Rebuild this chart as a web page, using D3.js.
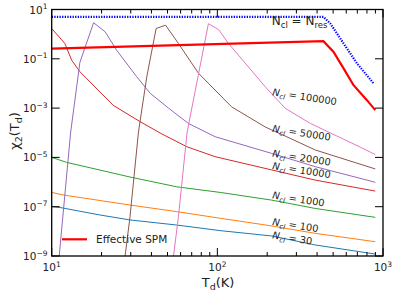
<!DOCTYPE html>
<html><head><meta charset="utf-8">
<script src="https://cdn.jsdelivr.net/npm/d3@7"></script>
<style>
body{margin:0;background:#fff}
svg{display:block}
text{font-family:"DejaVu Sans",sans-serif;fill:#222}
</style>
</head><body>
<svg id="c" width="397" height="296"></svg>
<script>
// ---- data ----
const nclNames  = ["30","100","1000","10000","20000","50000","100000"];
const nclColors = ["#1f77b4","#ff7f0e","#2ca02c","#d62728","#9467bd","#8c564b","#e377c2"];

const T30 = [10,11.2,19.6,29.7,56.9,104,213,390,898];
const V30 = [1.0e-7,9.3e-8,4.6e-8,2.9e-8,1.8e-8,1.07e-8,6.5e-9,2.8e-9,1.2e-9];
const T100 = [10,11.7,29.7,56.9,104,213,390,898];
const V100 = [3.8e-7,3.0e-7,1.17e-7,6.3e-8,3.4e-8,1.66e-8,8.3e-9,3.8e-9];
const T1000 = [10,12.3,29.7,56.9,104,213,390,898];
const V1000 = [1.0e-5,6.3e-6,1.6e-6,6.4e-7,3.8e-7,1.85e-7,8.5e-8,3.7e-8];
const T10000 = [10,12.0,13.2,14.8,23.5,34.2,46.3,65.5,97,213,390,898];
const V10000 = [1.7,0.42,0.088,0.030,1.3e-3,2.8e-4,8.9e-5,2.7e-5,1.07e-5,3.1e-6,1.2e-6,4.3e-7];
const T20000 = [10.8,11.1,13.0,14.8,17.9,21.0,24.7,32.6,39.3,50.7,66.8,97,213,390,898];
const V20000 = [1.3e-10,1e-9,9.8e-5,0.072,2.9,1.26,0.22,0.0187,4.0e-3,1.0e-3,2.4e-4,6.9e-5,1.45e-5,4.2e-6,9.8e-7];
const T50000 = [27.0,27.7,29.7,33.4,37.5,42.7,48.7,58.2,76.9,122,195,251,390,898];
const V50000 = [1.6e-10,9.3e-10,3.9e-8,1.07e-4,0.0187,1.7,2.3,0.42,0.026,1.12e-3,1.7e-4,7.9e-5,2.0e-5,3.4e-6];
const T100000 = [52.6,54.3,58.2,65.7,88.3,101.9,116.7,154,195,257,364,730,898];
const V100000 = [1.3e-10,9.3e-10,3.9e-8,1.07e-4,2.65,1.52,0.42,0.047,7.2e-3,9.8e-4,2.4e-4,2.6e-5,1.3e-5];

const Tspm = [10,437,503,578,664,800,898];
const Vspm = [0.26,0.52,0.19,0.041,8.5e-3,2.1e-3,8.3e-4];
const Tres = [10,437,481,578,697,877];
const Vres = [5.0,5.0,2.7,0.42,0.065,0.01];

const xMajor = [10,100,1000];
const xMinor = [20,30,40,50,60,70,80,90,200,300,400,500,600,700,800,900];
const yMajorExp = [1,-1,-3,-5,-7,-9];

// label anchors in data coordinates (T, value)
const nclLabelT = [214,214,214,214,214,214,214];
const nclLabelV = [5.2e-9,1.81e-8,2.18e-7,3.36e-6,1.08e-5,1.11e-4,3.36e-3];

// ---- layout ----
const L=51.7, R=383, Tp=9.5, B=256;
const svg = d3.select("#c");
const x = d3.scaleLog().domain([10,1000]).range([L,R]);
const y = d3.scaleLog().domain([1e-9,10]).range([B,Tp]);

svg.append("defs").append("clipPath").attr("id","pa")
  .append("rect").attr("x",L).attr("y",Tp).attr("width",R-L).attr("height",B-Tp);

const line = d3.line().x(d=>x(d[0])).y(d=>y(d[1]));
const zip = (a,b)=>a.map((t,i)=>[t,b[i]]);
const plot = svg.append("g").attr("clip-path","url(#pa)");

const seriesT = [T30,T100,T1000,T10000,T20000,T50000,T100000];
const seriesV = [V30,V100,V1000,V10000,V20000,V50000,V100000];
seriesT.forEach((T,i)=>{
  plot.append("path").attr("d",line(zip(T,seriesV[i])))
    .attr("fill","none").attr("stroke",nclColors[i]).attr("stroke-width",1);
});
plot.append("path").attr("d",line(zip(Tspm,Vspm)))
  .attr("fill","none").attr("stroke","#ff0000").attr("stroke-width",2.2);
plot.append("path").attr("d",line(zip(Tres,Vres)))
  .attr("fill","none").attr("stroke","#0000ff").attr("stroke-width",2.2)
  .attr("stroke-dasharray","1.3,1.3");

// frame
svg.append("rect").attr("x",L).attr("y",Tp).attr("width",R-L).attr("height",B-Tp)
  .attr("fill","none").attr("stroke","#000").attr("stroke-width",1.3);

// ticks
const tk = svg.append("g").attr("stroke","#000").attr("stroke-width",1);
xMajor.forEach(v=>{
  tk.append("line").attr("x1",x(v)).attr("x2",x(v)).attr("y1",B).attr("y2",B-8);
  tk.append("line").attr("x1",x(v)).attr("x2",x(v)).attr("y1",Tp).attr("y2",Tp+8);
});
xMinor.forEach(v=>{
  tk.append("line").attr("x1",x(v)).attr("x2",x(v)).attr("y1",B).attr("y2",B-4);
  tk.append("line").attr("x1",x(v)).attr("x2",x(v)).attr("y1",Tp).attr("y2",Tp+4);
});
yMajorExp.forEach(e=>{
  const yy=y(Math.pow(10,e));
  tk.append("line").attr("x1",L).attr("x2",L+8).attr("y1",yy).attr("y2",yy);
  tk.append("line").attr("x1",R).attr("x2",R-8).attr("y1",yy).attr("y2",yy);
});

function pow10(g, exp, px, py, anchor){
  const t = g.append("text").attr("x",px).attr("y",py).attr("text-anchor",anchor).style("font-size","10.5px");
  t.append("tspan").text("10");
  t.append("tspan").attr("dy",-4.5).style("font-size","7.5px").text(String(exp).replace("-","\u2212"));
  return t;
}
xMajor.forEach(v=>pow10(svg, Math.round(Math.log10(v)), x(v), 271, "middle"));
yMajorExp.forEach(e=>pow10(svg, e, 47.5, y(Math.pow(10,e))+4, "end"));

// axis labels
const xl = svg.append("text").attr("x",218).attr("y",287).attr("text-anchor","middle").style("font-size","13px");
xl.append("tspan").text("T");
xl.append("tspan").attr("dy",3).style("font-size","9.5px").text("d");
xl.append("tspan").attr("dy",-3).text("(K)");

const yl = svg.append("text").attr("transform","translate(19,131) rotate(-90)")
  .attr("text-anchor","middle").style("font-size","13px");
yl.append("tspan").text("\u03c7");
yl.append("tspan").attr("dy",3).style("font-size","9.5px").text("2");
yl.append("tspan").attr("dy",-3).text("(T");
yl.append("tspan").attr("dy",3).style("font-size","9.5px").text("d");
yl.append("tspan").attr("dy",-3).text(")");

// N_cl labels
nclNames.forEach((n,i)=>{
  const px=x(nclLabelT[i]), py=y(nclLabelV[i]);
  const t = svg.append("text").attr("transform",`translate(${px},${py}) rotate(9)`).style("font-size","9.8px");
  t.append("tspan").style("font-style","italic").text("N");
  t.append("tspan").attr("dy",2.5).style("font-style","italic").style("font-size","7px").text("cl");
  t.append("tspan").attr("dy",-2.5).text(" = "+n);
});

// N_cl = N_res label
const nr = svg.append("text").attr("x",x(213)).attr("y",y(2.31)).style("font-size","12px");
nr.append("tspan").text("N");
nr.append("tspan").attr("dy",2.5).style("font-size","8.5px").text("cl");
nr.append("tspan").attr("dy",-2.5).text(" = N");
nr.append("tspan").attr("dy",2.5).style("font-size","8.5px").text("res");

// legend
svg.append("line").attr("x1",62).attr("x2",87).attr("y1",239.3).attr("y2",239.3)
  .attr("stroke","#ff0000").attr("stroke-width",2.2);
svg.append("text").attr("x",96).attr("y",243.3).style("font-size","10.5px").text("Effective SPM");
</script>
</body></html>
